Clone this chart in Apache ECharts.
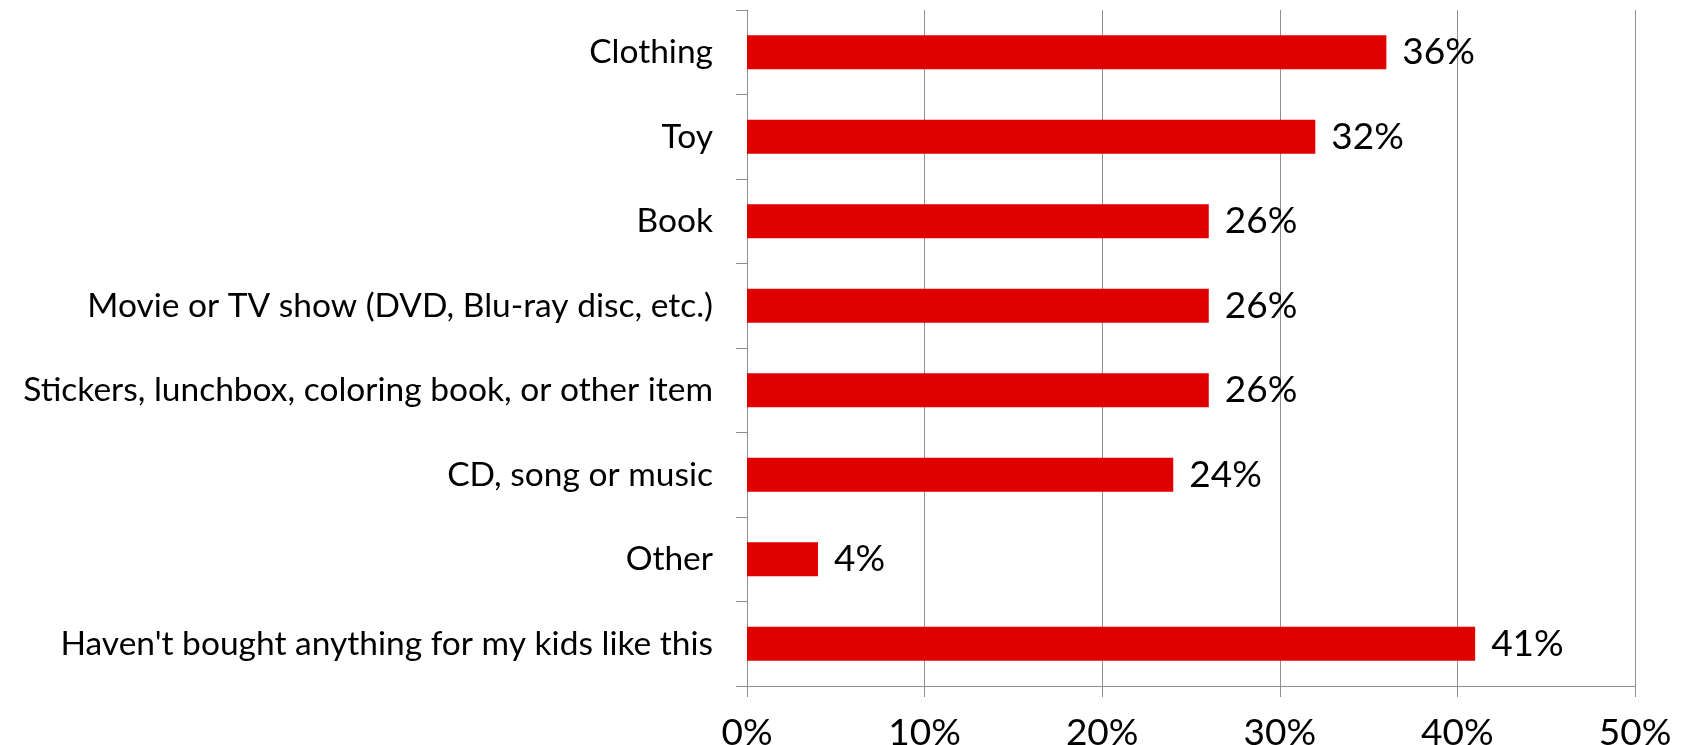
<!DOCTYPE html>
<html>
<head>
<meta charset="utf-8">
<style>
  html, body { margin: 0; padding: 0; background: #fff; }
  #chart { width: 1688px; height: 745px; }
</style>
<script src="https://cdn.jsdelivr.net/npm/echarts@6/dist/echarts.min.js"></script>
</head>
<body>
<div id="chart"></div>
<script>
// Items bought for kids, share of respondents (%)
const categories = [
  'Clothing',
  'Toy',
  'Book',
  'Movie or TV show (DVD, Blu-ray disc, etc.)',
  'Stickers, lunchbox, coloring book, or other item',
  'CD, song or music',
  'Other',
  "Haven't bought anything for my kids like this"
];
const shares = [36, 32, 26, 26, 26, 24, 4, 41];
const axisMax = 50;
const axisStep = 10;

const FONT = 'Lato, "Open Sans", sans-serif';
const CAT_SIZE = 33.5;
const NUM_SIZE = 37;
const GRAY = '#8f8f8f';

const chart = echarts.init(document.getElementById('chart'), null, { renderer: 'canvas' });
chart.setOption({
  animation: false,
  backgroundColor: '#ffffff',
  grid: {
    left: 747, right: 53, top: 10, bottom: 59,
    containLabel: false,
    outerBoundsMode: 'none'
  },
  xAxis: {
    type: 'value',
    min: 0,
    max: axisMax,
    interval: axisStep,
    axisLine: { show: true, lineStyle: { color: GRAY, width: 1 } },
    axisTick: { show: true, length: 11, lineStyle: { color: GRAY, width: 1 } },
    splitLine: { show: true, lineStyle: { color: GRAY, width: 1 } },
    axisLabel: {
      formatter: '{value}%',
      color: '#000',
      fontFamily: FONT,
      fontSize: NUM_SIZE,
      margin: 29
    }
  },
  yAxis: {
    type: 'category',
    data: categories,
    inverse: true,
    axisLine: { show: true, lineStyle: { color: GRAY, width: 1 } },
    axisTick: { show: true, length: 11, lineStyle: { color: GRAY, width: 1 } },
    axisLabel: {
      color: '#000',
      fontFamily: FONT,
      fontSize: CAT_SIZE,
      margin: 34
    }
  },
  series: [{
    type: 'bar',
    data: shares,
    barWidth: 34,
    itemStyle: { color: '#e00000' },
    label: {
      show: true,
      position: 'right',
      distance: 16,
      formatter: '{c}%',
      color: '#000',
      fontFamily: FONT,
      fontSize: NUM_SIZE
    }
  }]
});
</script>
</body>
</html>
